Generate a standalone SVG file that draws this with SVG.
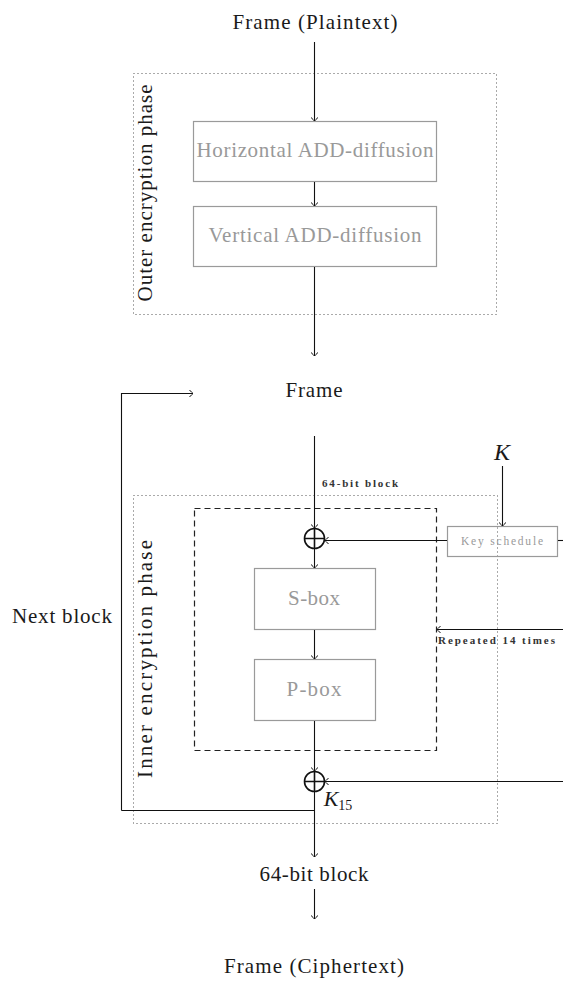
<svg xmlns="http://www.w3.org/2000/svg" width="563" height="981" viewBox="0 0 563 981">
<defs>
<marker id="arr" viewBox="-5 -5 6 10" refX="0" refY="0" markerWidth="6" markerHeight="10" markerUnits="userSpaceOnUse" orient="auto" overflow="visible">
<path d="M-3.5,-3.5 Q-1,-0.8 0,0 Q-1,0.8 -3.5,3.5" fill="none" stroke="#111" stroke-width="1"/>
</marker>
</defs>
<style>
text{font-family:'Liberation Serif','DejaVu Serif',serif;}
.t{fill:#1a1a1a;text-anchor:middle;}
.g{fill:#999;text-anchor:middle;}
.s{fill:#333;font-size:11px;font-weight:bold;}
.box{fill:none;stroke:#9a9a9a;stroke-width:1.2;}
.dot{fill:none;stroke:#555;stroke-width:1;stroke-dasharray:1 3;}
.dash{fill:none;stroke:#222;stroke-width:1.2;stroke-dasharray:6 4;}
.ln{fill:none;stroke:#111;stroke-width:1.1;}
.ar{fill:none;stroke:#111;stroke-width:1.1;marker-end:url(#arr);}
</style>
<rect width="563" height="981" fill="#fff"/>

<g id="outer-phase">
<rect class="dot" x="133.5" y="73.5" width="363" height="241"/>
<text class="t" font-size="21" transform="translate(152,193) rotate(-90)" textLength="217">Outer encryption phase</text>
</g>
<g id="inner-phase">
<rect class="dot" x="133.5" y="495.5" width="364" height="328"/>
<text class="t" font-size="21" transform="translate(152,659) rotate(-90)" textLength="238">Inner encryption phase</text>
</g>
<g id="repeat-region">
<rect class="dash" x="194.5" y="508.5" width="242" height="242"/>
</g>

<g id="plaintext">
<text class="t" font-size="21" x="315" y="29" textLength="165">Frame (Plaintext)</text>
</g>
<g id="horizontal">
<rect class="box" x="193.5" y="121.5" width="243" height="60"/>
<text class="g" font-size="21" x="315" y="157" textLength="237">Horizontal ADD-diffusion</text>
</g>
<g id="vertical">
<rect class="box" x="193.5" y="206.5" width="243" height="60"/>
<text class="g" font-size="21" x="315" y="242" textLength="213">Vertical ADD-diffusion</text>
</g>
<g id="frame">
<text class="t" font-size="21" x="314" y="397" textLength="57">Frame</text>
</g>
<g id="label-64">
<text class="s" x="322" y="487" textLength="76">64-bit block</text>
</g>
<g id="key">
<text class="t" font-size="24" font-style="italic" x="502" y="460">K</text>
</g>
<g id="keyschedule">
<rect class="box" x="447.5" y="526.5" width="110" height="30"/>
<text class="g" font-size="11.5" x="502" y="545" textLength="82">Key schedule</text>
</g>
<g id="xor1">
<circle cx="314.5" cy="538.5" r="10" fill="none" stroke="#111" stroke-width="1.6"/>
<path d="M304.5,538.5 H324.5 M314.5,528.5 V548.5" stroke="#111" stroke-width="1.6"/>
</g>
<g id="sbox">
<rect class="box" x="254.5" y="568.5" width="121" height="61"/>
<text class="g" font-size="21" x="314" y="605" textLength="52">S-box</text>
</g>
<g id="pbox">
<rect class="box" x="254.5" y="659.5" width="121" height="61"/>
<text class="g" font-size="21" x="314" y="696" textLength="55">P-box</text>
</g>
<g id="repeated">
<text class="s" x="438" y="644" textLength="117">Repeated 14 times</text>
</g>
<g id="nextblock">
<text class="t" font-size="21" x="62" y="623" textLength="100">Next block</text>
</g>
<g id="xor2">
<circle cx="314.5" cy="781.5" r="10" fill="none" stroke="#111" stroke-width="1.6"/>
<path d="M304.5,781.5 H324.5 M314.5,771.5 V791.5" stroke="#111" stroke-width="1.6"/>
</g>
<g id="k15">
<text class="t" font-size="22" font-style="italic" x="338" y="806">K<tspan font-size="14" font-style="normal" dy="4">15</tspan></text>
</g>
<g id="block64">
<text class="t" font-size="21" x="314" y="881" textLength="109">64-bit block</text>
</g>
<g id="ciphertext">
<text class="t" font-size="21" x="314" y="973" textLength="180">Frame (Ciphertext)</text>
</g>

<g id="connectors">
<line class="ar" x1="314.5" y1="42" x2="314.5" y2="121"/>
<line class="ar" x1="314.5" y1="182" x2="314.5" y2="206"/>
<line class="ar" x1="314.5" y1="267" x2="314.5" y2="356"/>
<polyline class="ar" points="121.5,810.5 121.5,393.5 193,393.5"/>
<line class="ar" x1="314.5" y1="436" x2="314.5" y2="528"/>
<line class="ar" x1="502.5" y1="466" x2="502.5" y2="526"/>
<line class="ar" x1="447" y1="540.5" x2="325" y2="540.5"/>
<line class="ln" x1="558" y1="540.5" x2="563" y2="540.5"/>
<line class="ar" x1="314.5" y1="549" x2="314.5" y2="568"/>
<line class="ar" x1="314.5" y1="630" x2="314.5" y2="659"/>
<line class="ar" x1="563" y1="629.5" x2="437" y2="629.5"/>
<line class="ar" x1="314.5" y1="721" x2="314.5" y2="771"/>
<line class="ar" x1="563" y1="781.5" x2="325" y2="781.5"/>
<line class="ln" x1="121.5" y1="810.5" x2="314.5" y2="810.5"/>
<line class="ar" x1="314.5" y1="792" x2="314.5" y2="857"/>
<line class="ar" x1="314.5" y1="889" x2="314.5" y2="919"/>
</g>
</svg>
